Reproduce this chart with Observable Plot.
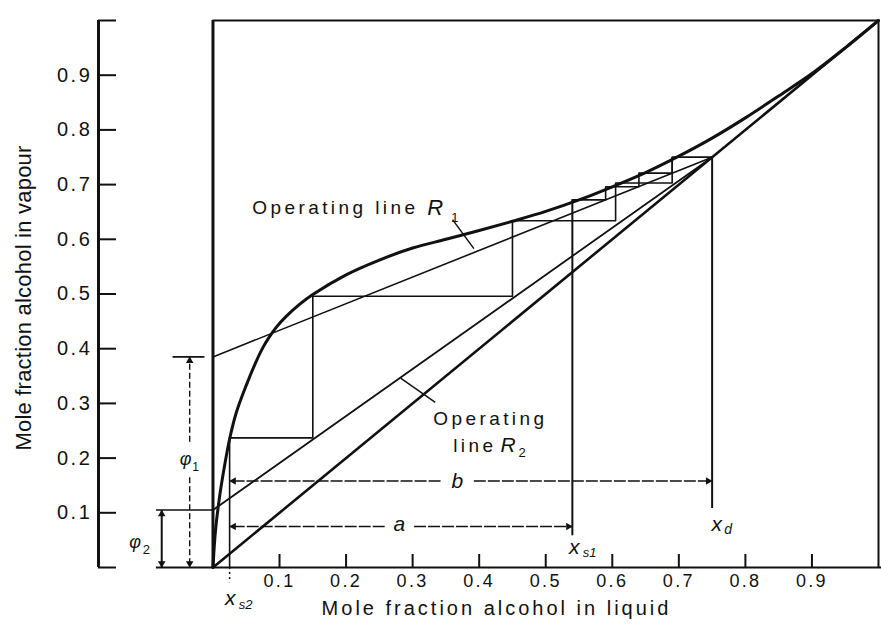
<!DOCTYPE html>
<html>
<head>
<meta charset="utf-8">
<script src="https://cdn.jsdelivr.net/npm/d3@7"></script>
<script src="https://cdn.jsdelivr.net/npm/@observablehq/plot@0.6"></script>
<style>
  body { margin: 0; background: #fff; }
  #chart svg { display: block; }
  #chart text { letter-spacing: 0.13em; }
  #chart text[aria-label="xlabel"] { letter-spacing: 0.15em; }
  #chart text[aria-label="ylabel"] { letter-spacing: 0.01em; }
  #chart text[aria-label="wide"] { letter-spacing: 0.18em; }
  #chart text[aria-label="sub"], #chart text[aria-label="sym"] { letter-spacing: 0; }
</style>
</head>
<body>
<div id="chart"></div>
<script>
// ---- tick values and labels ----
const xTickValues = [0.1, 0.2, 0.3, 0.4, 0.5, 0.6, 0.7, 0.8, 0.9];
const xTickLabels = ["0.1", "0.2", "0.3", "0.4", "0.5", "0.6", "0.7", "0.8", "0.9"];
const yTickValues = [0, 0.1, 0.2, 0.3, 0.4, 0.5, 0.6, 0.7, 0.8, 0.9, 1.0];
const yTickLabels = ["", "0.1", "0.2", "0.3", "0.4", "0.5", "0.6", "0.7", "0.8", "0.9", ""];

// ---- equilibrium curve (alcohol / water) ----
const eqX = [0, 0.004, 0.01, 0.018, 0.025, 0.035, 0.05, 0.065, 0.075, 0.085, 0.095, 0.11, 0.13, 0.15, 0.2, 0.25, 0.3, 0.35, 0.4, 0.45, 0.5, 0.55, 0.6, 0.65, 0.7, 0.75, 0.8, 0.85, 0.9, 0.95, 1.0];
const eqY = [0, 0.07, 0.13, 0.19, 0.235, 0.283, 0.333, 0.377, 0.402, 0.422, 0.439, 0.459, 0.481, 0.499, 0.535, 0.562, 0.584, 0.6, 0.616, 0.633, 0.651, 0.672, 0.696, 0.722, 0.752, 0.785, 0.822, 0.862, 0.903, 0.95, 1.0];

// ---- key compositions ----
const xd = 0.75, xs1 = 0.54, xs2 = 0.025;
const phi1 = 0.385, phi2 = 0.105;

// ---- diagonal and operating lines ----
const diagX = [0, 1], diagY = [0, 1];
const opR1X = [0, xd], opR1Y = [phi1, xd];
const opR2X = [0, xd], opR2Y = [phi2, xd];

// ---- stage steps ----
const stepsR1X = [0.75, 0.69, 0.69, 0.64, 0.64, 0.59, 0.59, 0.54];
const stepsR1Y = [0.75, 0.75, 0.721, 0.721, 0.696, 0.696, 0.672, 0.672];
const stepsR2X = [0.75, 0.69, 0.69, 0.605, 0.605, 0.45, 0.45, 0.15, 0.15, 0.025, 0.025];
const stepsR2Y = [0.75, 0.75, 0.703, 0.703, 0.634, 0.634, 0.496, 0.496, 0.237, 0.237, 0];

// ---- dimension arrows ----
const bLevel = 0.158, aLevel = 0.075;

const pts = (xs, ys) => xs.map((x, i) => ({x, y: ys[i]}));
const eq = pts(eqX, eqY);
const diag = pts(diagX, diagY);
const opR1 = pts(opR1X, opR1Y);
const opR2 = pts(opR2X, opR2Y);
const stR1 = pts(stepsR1X, stepsR1Y);
const stR2 = pts(stepsR2X, stepsR2Y);

const ink = "#111";
const one = d => [d];
const T = d => d;
const tag = name => () => name;

const plot = Plot.plot({
  width: 881,
  height: 630,
  marginLeft: 98,
  marginRight: 3,
  marginTop: 20,
  marginBottom: 63,
  style: {fontFamily: "'Liberation Sans', Arial, sans-serif", color: ink, background: "#fff"},
  x: {domain: [-0.172, 1]},
  y: {domain: [0, 1]},
  marks: [
    // left y axis
    Plot.ruleX([-0.172], {y1: 0, y2: 1, stroke: ink, strokeWidth: 3}),
    Plot.axisY(yTickValues, {anchor: "left", tickSize: -18, tickPadding: 24, strokeWidth: 2,
      fontSize: 20, tickFormat: d => yTickLabels[yTickValues.indexOf(d)], label: null}),
    // bottom x axis
    Plot.ruleY([0], {x1: -0.085, x2: 1.01, stroke: ink, strokeWidth: 2}),
    Plot.axisX(xTickValues, {anchor: "bottom", tickSize: -13, tickPadding: 20, strokeWidth: 2,
      fontSize: 18, tickFormat: d => xTickLabels[xTickValues.indexOf(d)], label: null}),
    // diagram frame
    Plot.ruleX([0], {y1: 0, y2: 1, stroke: ink, strokeWidth: 3}),
    Plot.ruleY([1], {x1: 0, x2: 1, stroke: ink, strokeWidth: 2}),
    Plot.ruleX([1], {y1: 0, y2: 1, stroke: ink, strokeWidth: 2}),
    // diagonal, operating lines, equilibrium curve
    Plot.line(diag, {x: "x", y: "y", stroke: ink, strokeWidth: 2.6}),
    Plot.line(opR1, {x: "x", y: "y", stroke: ink, strokeWidth: 1.6}),
    Plot.line(opR2, {x: "x", y: "y", stroke: ink, strokeWidth: 1.8}),
    Plot.line(eq, {x: "x", y: "y", stroke: ink, strokeWidth: 3, curve: "catmull-rom"}),
    // steps
    Plot.line(stR1, {x: "x", y: "y", stroke: ink, strokeWidth: 1.6}),
    Plot.line(stR2, {x: "x", y: "y", stroke: ink, strokeWidth: 1.6}),
    // composition verticals
    Plot.ruleX([xs1], {y1: 0.672, y2: 0.058, stroke: ink, strokeWidth: 2}),
    Plot.ruleX([xd], {y1: xd, y2: 0.108, stroke: ink, strokeWidth: 2}),
    Plot.ruleX([xs2], {y1: 0, y2: -0.028, stroke: ink, strokeWidth: 1.5, strokeDasharray: "2,3"}),
    // dimension lines a and b
    Plot.link([{x1: 0.342, x2: xs2}, {x1: 0.392, x2: xd}], {x1: "x1", x2: "x2", y1: bLevel, y2: bLevel, stroke: ink, strokeWidth: 1.4, strokeDasharray: "12,2"}),
    Plot.link([{x1: 0.258, x2: xs2}, {x1: 0.302, x2: xs1}], {x1: "x1", x2: "x2", y1: aLevel, y2: aLevel, stroke: ink, strokeWidth: 1.4, strokeDasharray: "12,2"}),
    Plot.dot([{x: xs2, y: bLevel}, {x: xs2, y: aLevel}], {x: "x", y: "y", symbol: "triangle", r: 2.8, rotate: -90, dx: 4, fill: ink, stroke: null}),
    Plot.dot([{x: xd, y: bLevel}, {x: xs1, y: aLevel}], {x: "x", y: "y", symbol: "triangle", r: 2.8, rotate: 90, dx: -4, fill: ink, stroke: null}),
    // phi dimension lines
    Plot.ruleY([phi1], {x1: -0.06, x2: -0.012, stroke: ink, strokeWidth: 1.6}),
    Plot.ruleY([phi2], {x1: -0.085, x2: 0, stroke: ink, strokeWidth: 1.6}),
    Plot.link([{y1: 0.23, y2: phi1}, {y1: 0.165, y2: 0}], {x1: -0.035, x2: -0.035, y1: "y1", y2: "y2", stroke: ink, strokeWidth: 1.4, strokeDasharray: "6,3"}),
    Plot.link([{y1: 0, y2: phi2}], {x1: -0.077, x2: -0.077, y1: "y1", y2: "y2", stroke: ink, strokeWidth: 2}),
    Plot.dot([{x: -0.035, y: phi1}, {x: -0.077, y: phi2}], {x: "x", y: "y", symbol: "triangle", r: 2.8, rotate: 0, dy: 4, fill: ink, stroke: null}),
    Plot.dot([{x: -0.035, y: 0}, {x: -0.077, y: 0}], {x: "x", y: "y", symbol: "triangle", r: 2.8, rotate: 180, dy: -4, fill: ink, stroke: null}),
    // leader lines
    Plot.link([{x1: 0.36, y1: 0.636, x2: 0.392, y2: 0.583}, {x1: 0.282, y1: 0.346, x2: 0.334, y2: 0.302}],
      {x1: "x1", y1: "y1", x2: "x2", y2: "y2", stroke: ink, strokeWidth: 1.5}),
    // annotation text
    Plot.text(one("Operating line"), {x: 0.059, y: 0.658, text: T, textAnchor: "start", fontSize: 19, fill: ink, ariaLabel: tag("wide")}),
    Plot.text(one("R"), {x: 0.322, y: 0.658, text: T, textAnchor: "start", fontSize: 22, fontStyle: "italic", fill: ink, ariaLabel: tag("sym")}),
    Plot.text(one("1"), {x: 0.358, y: 0.64, text: T, textAnchor: "start", fontSize: 13, fill: ink, ariaLabel: tag("sub")}),
    Plot.text(one("Operating"), {x: 0.331, y: 0.272, text: T, textAnchor: "start", fontSize: 19, fill: ink, ariaLabel: tag("wide")}),
    Plot.text(one("line"), {x: 0.361, y: 0.223, text: T, textAnchor: "start", fontSize: 19, fill: ink, ariaLabel: tag("wide")}),
    Plot.text(one("R"), {x: 0.432, y: 0.223, text: T, textAnchor: "start", fontSize: 21, fontStyle: "italic", fill: ink, ariaLabel: tag("sym")}),
    Plot.text(one("2"), {x: 0.459, y: 0.209, text: T, textAnchor: "start", fontSize: 13, fill: ink, ariaLabel: tag("sub")}),
    Plot.text(one("b"), {x: 0.367, y: bLevel, text: T, fontSize: 21, fontStyle: "italic", fill: ink, ariaLabel: tag("sym")}),
    Plot.text(one("a"), {x: 0.28, y: aLevel + 0.004, text: T, fontSize: 21, fontStyle: "italic", fill: ink, ariaLabel: tag("sym")}),
    Plot.text(one("x"), {x: 0.757, y: 0.079, text: T, fontSize: 21, fontStyle: "italic", fill: ink, ariaLabel: tag("sym")}),
    Plot.text(one("d"), {x: 0.774, y: 0.069, text: T, fontSize: 14, fontStyle: "italic", fill: ink, ariaLabel: tag("sub")}),
    Plot.text(one("x"), {x: 0.543, y: 0.037, text: T, fontSize: 21, fontStyle: "italic", fill: ink, ariaLabel: tag("sym")}),
    Plot.text(one("s1"), {x: 0.566, y: 0.026, text: T, fontSize: 13, fontStyle: "italic", fill: ink, ariaLabel: tag("sub")}),
    Plot.text(one("x"), {x: 0.026, y: -0.057, text: T, fontSize: 21, fontStyle: "italic", fill: ink, ariaLabel: tag("sym")}),
    Plot.text(one("s2"), {x: 0.049, y: -0.069, text: T, fontSize: 13, fontStyle: "italic", fill: ink, ariaLabel: tag("sub")}),
    Plot.text(one("φ"), {x: -0.041, y: 0.198, text: T, fontSize: 18, fontStyle: "italic", fill: ink, ariaLabel: tag("sym")}),
    Plot.text(one("1"), {x: -0.026, y: 0.184, text: T, fontSize: 12, fill: ink, ariaLabel: tag("sub")}),
    Plot.text(one("φ"), {x: -0.117, y: 0.046, text: T, fontSize: 18, fontStyle: "italic", fill: ink, ariaLabel: tag("sym")}),
    Plot.text(one("2"), {x: -0.1, y: 0.033, text: T, fontSize: 13, fill: ink, ariaLabel: tag("sub")}),
    // axis titles
    Plot.text(one("Mole fraction alcohol in liquid"), {frameAnchor: "bottom", text: T, dx: 8, dy: 47, fontSize: 20, fill: ink, ariaLabel: tag("xlabel")}),
    Plot.text(one("Mole fraction alcohol in vapour"), {frameAnchor: "left", textAnchor: "middle", text: T, rotate: -90, dx: -75, dy: 4, fontSize: 22, fill: ink, ariaLabel: tag("ylabel")})
  ]
});
document.getElementById("chart").appendChild(plot);
</script>
</body>
</html>
